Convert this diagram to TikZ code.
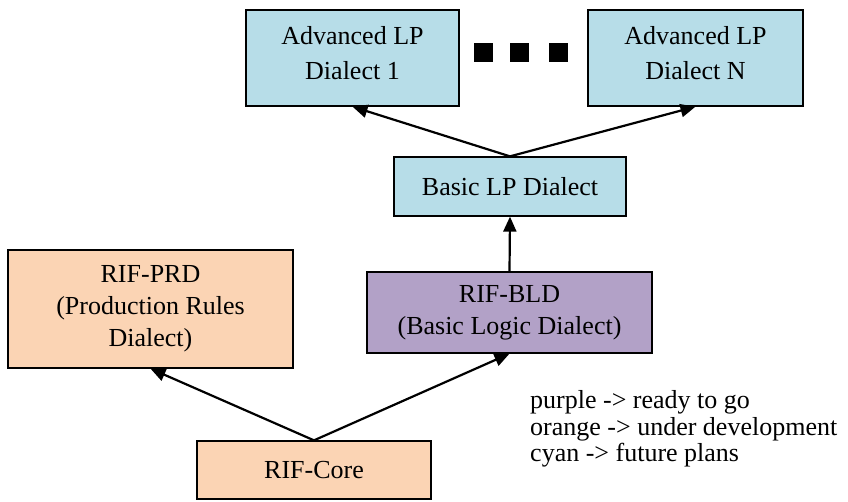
\documentclass[tikz,border=0pt]{standalone}
\usepackage{fontspec}
\setmainfont{Liberation Serif}
\usetikzlibrary{arrows.meta}
\definecolor{cyanfill}{HTML}{B7DDE8}
\definecolor{orangefill}{HTML}{FBD4B4}
\definecolor{purplefill}{HTML}{B2A1C7}
\definecolor{ink}{HTML}{000000}

\begin{document}
\begin{tikzpicture}[
  x=1pt,y=1pt,font=\fontsize{26}{32}\selectfont,
  dialect/.style={draw=ink,line width=1.3pt,align=center,inner sep=2pt},
  future/.style={dialect,fill=cyanfill},
  underdev/.style={dialect,fill=orangefill},
  readybox/.style={dialect,fill=purplefill},
  dotsq/.style={fill=ink,minimum size=19pt,inner sep=0pt},
  extends/.style={draw=ink,line width=2.2pt,-{Triangle[length=15pt,width=13pt]}},
  legend/.style={anchor=base west,inner sep=0pt}
]
\path[use as bounding box] (0,0) rectangle (848,-501);

% Top row: advanced dialects with the dots between them.
\node[future,minimum width=213pt,minimum height=96pt,text depth=10pt] (adv1) at (352.5,-58)
  {Advanced LP\\[3pt]Dialect 1};
\node[future,minimum width=215pt,minimum height=96pt,text depth=10pt] (advn) at (695.5,-58)
  {Advanced LP\\[3pt]Dialect N};
\node[dotsq] (dot1) at (483.5,-52.5) {};
\node[dotsq] (dot2) at (519,-52.5) {};
\node[dotsq] (dot3) at (558.5,-52.5) {};

\node[future,minimum width=232pt,minimum height=59pt] (basic) at (510,-186.5) {Basic LP Dialect};

\node[underdev,minimum width=285pt,minimum height=118pt] (prd) at (150.5,-309)
  {RIF-PRD\\(Production Rules\\Dialect)};
\node[readybox,minimum width=285pt,minimum height=81pt] (bld) at (509.5,-312.5)
  {RIF-BLD\\(Basic Logic Dialect)};
\node[underdev,minimum width=234pt,minimum height=58pt] (core) at (314,-470) {RIF-Core};

\draw[extends] (basic.north) -- (adv1.south);
\draw[extends] (basic.north) -- (advn.south);
\draw[extends] (bld.north) -- (basic.south);
\draw[extends] (core.north) -- (prd.south);
\draw[extends] (core.north) -- (bld.south);

\node[legend] (leg1) at (530,-408) {purple -> ready to go};
\node[legend] (leg2) at (530,-435) {orange -> under development};
\node[legend] (leg3) at (530,-461) {cyan -> future plans};
\end{tikzpicture}
\end{document}
